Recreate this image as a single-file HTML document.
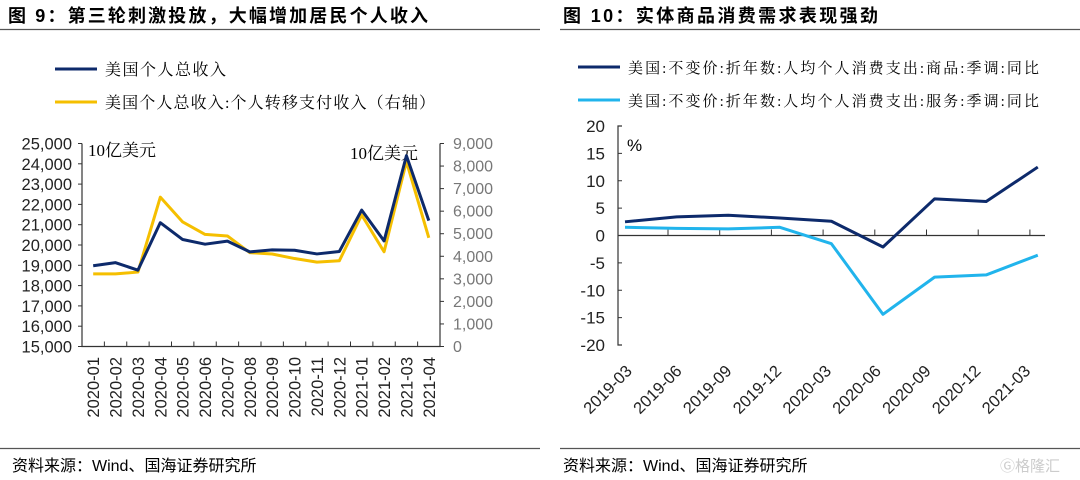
<!DOCTYPE html>
<html><head><meta charset="utf-8"><style>
html,body{margin:0;padding:0;background:#fff;width:1080px;height:480px;overflow:hidden}
svg{display:block;font-family:"Liberation Sans","Noto Sans CJK SC",sans-serif}
.serif{font-family:"Liberation Serif","Noto Serif CJK SC",serif}
</style></head><body>
<svg id="s" width="1080" height="480" viewBox="0 0 1080 480" xmlns="http://www.w3.org/2000/svg">
<g>
<text x="8" y="22" font-size="18" font-weight="bold" textLength="420">图 9：第三轮刺激投放，大幅增加居民个人收入</text>
<line x1="0" y1="29.5" x2="540" y2="29.5" stroke="#555" stroke-width="1.2"/>
</g>
<g>
<text x="563" y="22" font-size="18" font-weight="bold" textLength="315">图 10：实体商品消费需求表现强劲</text>
<line x1="560" y1="29.5" x2="1080" y2="29.5" stroke="#555" stroke-width="1.2"/>
</g>
<g>
<line x1="55" y1="69" x2="97" y2="69" stroke="#0d2a6b" stroke-width="3"/>
<text class="serif" x="105" y="75" font-size="16" textLength="121">美国个人总收入</text>
<line x1="55" y1="102" x2="97" y2="102" stroke="#f5bf00" stroke-width="3"/>
<text class="serif" x="105" y="108" font-size="16" textLength="330">美国个人总收入:个人转移支付收入（右轴）</text>
</g>
<g>
<line x1="578" y1="67" x2="620" y2="67" stroke="#0d2a6b" stroke-width="3"/>
<text class="serif" x="628" y="73" font-size="15" textLength="411">美国:不变价:折年数:人均个人消费支出:商品:季调:同比</text>
<line x1="578" y1="100" x2="620" y2="100" stroke="#21b4ec" stroke-width="3"/>
<text class="serif" x="628" y="106" font-size="15" textLength="411">美国:不变价:折年数:人均个人消费支出:服务:季调:同比</text>
</g>
<g id="left"></g>
<g id="right"></g>
<g>
<line x1="0" y1="448.5" x2="540" y2="448.5" stroke="#555" stroke-width="1.2"/>
<line x1="560" y1="448.5" x2="1080" y2="448.5" stroke="#555" stroke-width="1.2"/>
<text x="12" y="471" font-size="16">资料来源：Wind、国海证券研究所</text>
<text x="563" y="471" font-size="16">资料来源：Wind、国海证券研究所</text>
<text x="1000" y="471" font-size="15" fill="#ccc">Ⓖ格隆汇</text>
</g>
</svg>
<script>
const leftCats=["2020-01","2020-02","2020-03","2020-04","2020-05","2020-06","2020-07","2020-08","2020-09","2020-10","2020-11","2020-12","2021-01","2021-02","2021-03","2021-04"];
const totalIncome=[18980,19130,18760,21100,20270,20040,20190,19660,19760,19740,19560,19680,21720,20200,24400,21200];
const transferIncome=[3220,3220,3300,6620,5520,4970,4900,4160,4100,3900,3740,3800,5830,4200,8200,4820];
const leftTicks=[15000,16000,17000,18000,19000,20000,21000,22000,23000,24000,25000];
const rightTicks=[0,1000,2000,3000,4000,5000,6000,7000,8000,9000];
const rCats=["2019-03","2019-06","2019-09","2019-12","2020-03","2020-06","2020-09","2020-12","2021-03"];
const goods=[2.5,3.4,3.7,3.2,2.6,-2.1,6.7,6.2,12.5];
const services=[1.5,1.3,1.2,1.5,-1.5,-14.4,-7.6,-7.2,-3.6];
const pctTicks=[-20,-15,-10,-5,0,5,10,15,20];
const NS="http://www.w3.org/2000/svg";
function mk(p,t,a,txt){const e=document.createElementNS(NS,t);for(const k in a)e.setAttribute(k,a[k]);if(txt!==undefined)e.textContent=txt;p.appendChild(e);return e;}
const fmt=v=>v.toLocaleString('en-US');
const L=document.getElementById('left');
const lx0=82,lx1=440,ly0=346.5,ly1=143.5;
const band=(lx1-lx0)/leftCats.length;
const xL=i=>lx0+band*(i+0.5);
const yL=v=>ly0-(v-15000)/10000*(ly0-ly1);
const yR=v=>ly0-v/9000*(ly0-ly1);
mk(L,'path',{d:`M${lx0},${ly1} V${ly0} H${lx1} V${ly1}`,fill:'none',stroke:'#333','stroke-width':1.2});
for(let i=1;i<leftCats.length;i++){mk(L,'line',{x1:lx0+band*i,x2:lx0+band*i,y1:ly0,y2:ly0-5,stroke:'#333'});}
leftTicks.forEach(v=>{const t=mk(L,'text',{x:72,y:yL(v)+6,'font-size':16.5,'text-anchor':'end',fill:'#222'},fmt(v));


mk(L,'line',{x1:lx0-4,x2:lx0,y1:yL(v),y2:yL(v),stroke:'#333'});});
rightTicks.forEach(v=>{const t=mk(L,'text',{x:453,y:yR(v)+5.5,'font-size':16,fill:'#777'},fmt(v));


mk(L,'line',{x1:lx1,x2:lx1+4,y1:yR(v),y2:yR(v),stroke:'#333'});});
leftCats.forEach((c,i)=>{const t=mk(L,'text',{x:0,y:0,'font-size':16.5,'text-anchor':'end',transform:`translate(${xL(i)+6},357) rotate(-90)`,fill:'#222'},c);

});
const u1=mk(L,'text',{class:'serif',x:88,y:156,'font-size':17},'10亿美元');


const u2=mk(L,'text',{class:'serif',x:350,y:159,'font-size':17},'10亿美元');


const p1=mk(L,'polyline',{points:transferIncome.map((v,i)=>xL(i)+','+yR(v)).join(' '),fill:'none',stroke:'#f5bf00','stroke-width':3,'stroke-linejoin':'round'});


const p2=mk(L,'polyline',{points:totalIncome.map((v,i)=>xL(i)+','+yL(v)).join(' '),fill:'none',stroke:'#0d2a6b','stroke-width':3,'stroke-linejoin':'round'});


const R=document.getElementById('right');
const rx0=618,rx1=1045,ry0=345,ry1=126;
const xR=i=>625+i*51.6;
const yP=v=>ry0-(v+20)/40*(ry0-ry1);
mk(R,'path',{d:`M${rx0+4},${ry1} H${rx0} V${ry0} H${rx0+4}`,fill:'none',stroke:'#333','stroke-width':1.2});
mk(R,'line',{x1:rx0,x2:rx1,y1:yP(0),y2:yP(0),stroke:'#333','stroke-width':1.2});
for(let i=0;i<8;i++){mk(R,'line',{x1:668+i*51.7,x2:668+i*51.7,y1:yP(0),y2:yP(0)-6,stroke:'#333'});}
pctTicks.forEach(v=>{const t=mk(R,'text',{x:605,y:yP(v)+6,'font-size':17,'text-anchor':'end',fill:'#222'},String(v));


mk(R,'line',{x1:rx0,x2:rx0+4,y1:yP(v),y2:yP(v),stroke:'#333'});});
rCats.forEach((c,i)=>{const t=mk(R,'text',{x:0,y:0,'font-size':16.5,'text-anchor':'end',transform:`translate(${633+i*49.8},372) rotate(-45)`,fill:'#222'},c);

});
const pc=mk(R,'text',{x:627,y:151,'font-size':17},'%');


const s1=mk(R,'polyline',{points:services.map((v,i)=>xR(i)+','+yP(v)).join(' '),fill:'none',stroke:'#21b4ec','stroke-width':3,'stroke-linejoin':'round'});


const s2=mk(R,'polyline',{points:goods.map((v,i)=>xR(i)+','+yP(v)).join(' '),fill:'none',stroke:'#0d2a6b','stroke-width':3,'stroke-linejoin':'round'});


</script>
</body></html>
